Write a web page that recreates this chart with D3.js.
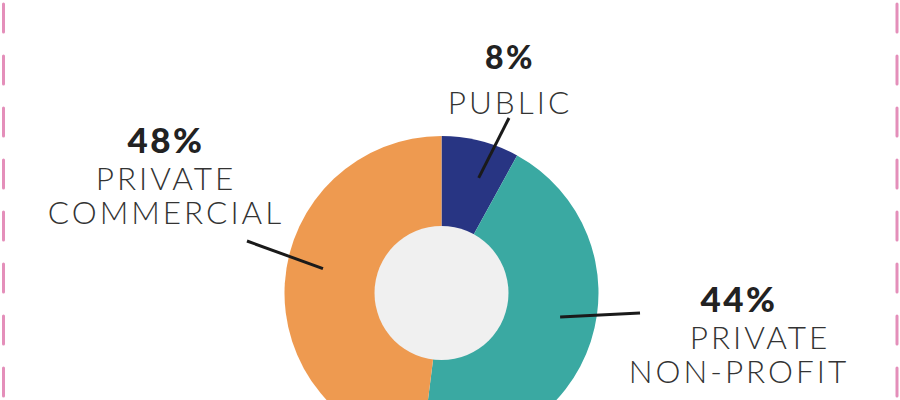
<!DOCTYPE html>
<html>
<head>
<meta charset="utf-8">
<script src="https://cdn.jsdelivr.net/npm/d3@7"></script>
<style>
  body { margin: 0; background: #fff; }
  svg { display: block; }
</style>
</head>
<body>
<div id="chart"></div>
<script>
// sector shares (percent)
var categories = ["PUBLIC", "PRIVATE NON-PROFIT", "PRIVATE COMMERCIAL"];
var shares = [8, 44, 48];
var pctLabels = ["8%", "44%", "48%"];
var nameLines = [["PUBLIC"], ["PRIVATE", "NON-PROFIT"], ["PRIVATE", "COMMERCIAL"]];

var width = 900, height = 400;
var cx = 441.5, cy = 293;
var outerR = 157, innerR = 67;

var svg = d3.select("#chart")
  .append("svg")
  .attr("width", width)
  .attr("height", height);

// dashed page edges
[3.5, 897].forEach(function(x) {
  svg.append("line")
    .attr("x1", x).attr("x2", x)
    .attr("y1", 4).attr("y2", 400)
    .attr("stroke", "#e48fba")
    .attr("stroke-width", 3)
    .attr("stroke-linecap", "round")
    .attr("stroke-dasharray", "28 24");
});

var color = d3.scaleOrdinal()
  .domain(categories)
  .range(["#283583", "#3aa9a2", "#ee9a50"]);

var pie = d3.pie().sort(null).value(function(d) { return d; });
var arcs = pie(shares);

var arc = d3.arc().innerRadius(0).outerRadius(outerR);

var g = svg.append("g").attr("transform", "translate(" + cx + "," + cy + ")");

g.selectAll("path.slice")
  .data(arcs)
  .enter()
  .append("path")
  .attr("class", "slice")
  .attr("d", arc)
  .attr("fill", function(d, i) { return color(categories[i]); });

g.append("circle")
  .attr("r", innerR)
  .attr("fill", "#f0f0f0");

// label layout: leader nudge (deg), leader outer end, text anchor
var layout = [
  { nudge: 3.5, end: [67.5, -175], x: 510, pctY: 69, nameY: 114, pctSize: 32 },
  { nudge: -6.6, end: [198.5, 20], x: 739, pctY: 312, nameY: 349, pctSize: 35, nameX: [760, 739] },
  { nudge: 8, end: [-194.5, -52], x: 166, pctY: 153, nameY: 190, pctSize: 35 }
];

arcs.forEach(function(d, i) {
  var L = layout[i];
  var mid = (d.startAngle + d.endAngle) / 2 + L.nudge * Math.PI / 180;
  var p = d3.pointRadial(mid, 121);
  g.append("line")
    .attr("x1", p[0]).attr("y1", p[1])
    .attr("x2", L.end[0]).attr("y2", L.end[1])
    .attr("stroke", "#1a1a1a")
    .attr("stroke-width", 3);

  svg.append("text")
    .attr("x", L.x)
    .attr("y", L.pctY)
    .attr("text-anchor", "middle")
    .attr("font-family", "Lato, sans-serif")
    .attr("font-weight", 900)
    .attr("font-size", L.pctSize)
    .attr("letter-spacing", 2.5)
    .attr("fill", "#222")
    .text(pctLabels[i]);

  nameLines[i].forEach(function(line, j) {
    svg.append("text")
      .attr("x", L.nameX ? L.nameX[j] : L.x)
      .attr("y", L.nameY + j * 34)
      .attr("text-anchor", "middle")
      .attr("font-family", "Lato, sans-serif")
      .attr("font-weight", 300)
      .attr("font-size", 31.5)
      .attr("letter-spacing", 3)
      .attr("fill", "#333")
      .text(line);
  });
});
</script>
</body>
</html>
